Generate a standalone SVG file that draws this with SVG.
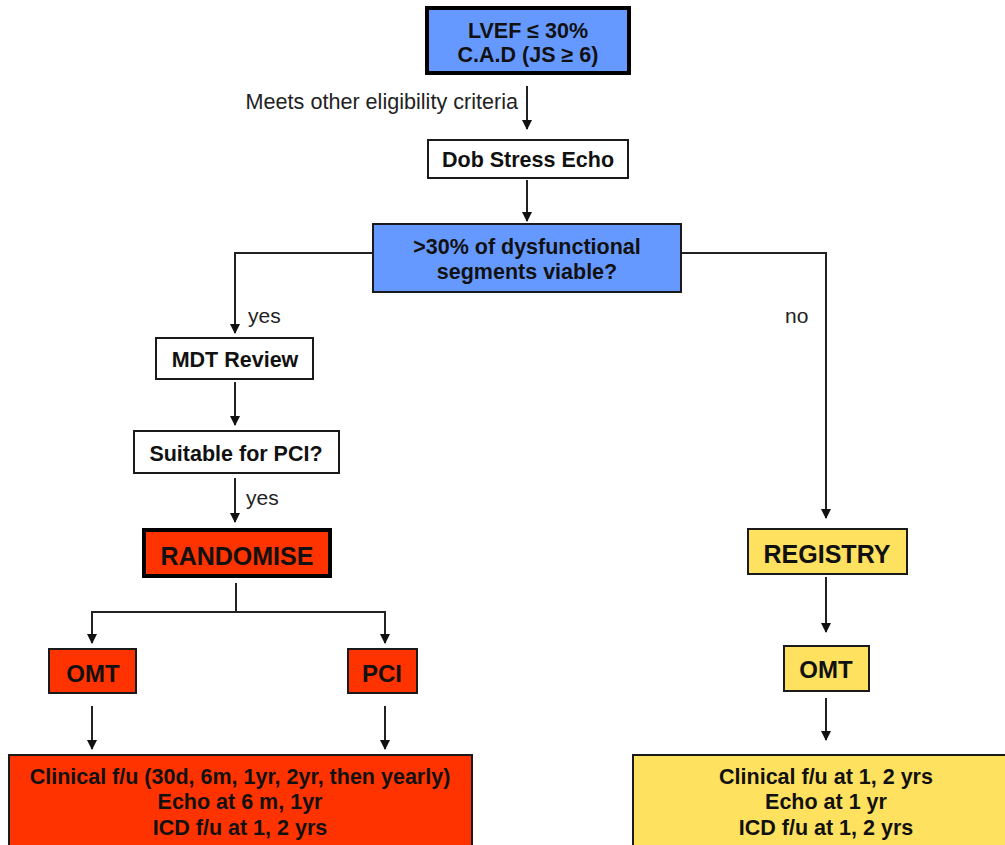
<svg xmlns="http://www.w3.org/2000/svg" width="1005" height="845" viewBox="0 0 1005 845">
<style>
.b{font-family:"Liberation Sans",Arial,sans-serif;font-weight:bold;fill:#111;text-anchor:middle;font-size:21.5px}
.big{font-size:25px}
.mid{font-size:24px}
.n{font-family:"Liberation Sans",Arial,sans-serif;fill:#222;font-size:21px}
.box{stroke:#1a1a1a;stroke-width:2}
.thick{stroke:#000;stroke-width:4}
.c{fill:none;stroke:#222;stroke-width:2}
</style>
<defs>
<marker id="ah" viewBox="0 0 10 10" refX="9" refY="5" markerWidth="5" markerHeight="5" orient="auto" markerUnits="strokeWidth">
<path d="M0,0 L10,5 L0,10 z" fill="#111"/>
</marker>
</defs>
<rect width="1005" height="845" fill="#fff"/>
<g id="connectors">
<line class="c" x1="527" y1="86" x2="527" y2="129" marker-end="url(#ah)"/>
<line class="c" x1="527" y1="180" x2="527" y2="221" marker-end="url(#ah)"/>
<polyline class="c" points="372,253 235,253 235,333" marker-end="url(#ah)"/>
<polyline class="c" points="682,253 826,253 826,518" marker-end="url(#ah)"/>
<line class="c" x1="235" y1="382" x2="235" y2="425" marker-end="url(#ah)"/>
<line class="c" x1="235" y1="478" x2="235" y2="522" marker-end="url(#ah)"/>
<line class="c" x1="236" y1="583" x2="236" y2="612"/>
<polyline class="c" points="92,612 385,612 385,643" marker-end="url(#ah)"/>
<line class="c" x1="92" y1="611" x2="92" y2="643" marker-end="url(#ah)"/>
<line class="c" x1="92" y1="706" x2="92" y2="749" marker-end="url(#ah)"/>
<line class="c" x1="385" y1="706" x2="385" y2="749" marker-end="url(#ah)"/>
<line class="c" x1="826" y1="577" x2="826" y2="632" marker-end="url(#ah)"/>
<line class="c" x1="826" y1="698" x2="826" y2="740" marker-end="url(#ah)"/>
<text class="n" x="518" y="109" text-anchor="end" style="font-size:21.6px">Meets other eligibility criteria</text>
<text class="n" x="248" y="323">yes</text>
<text class="n" x="785" y="323">no</text>
<text class="n" x="246" y="505">yes</text>
</g>
<g id="lvef">
<rect class="thick" x="427" y="8" width="202" height="65" fill="#6699FF"/>
<text class="b" x="528" y="38">LVEF ≤ 30%</text>
<text class="b" x="528" y="62">C.A.D (JS ≥ 6)</text>
</g>
<g id="dse">
<rect class="box" x="428" y="140" width="200" height="38" fill="#fff"/>
<text class="b" x="528" y="167">Dob Stress Echo</text>
</g>
<g id="viable">
<rect class="box" x="373" y="224" width="308" height="68" fill="#6699FF"/>
<text class="b" x="527" y="254">&gt;30% of dysfunctional</text>
<text class="b" x="527" y="279">segments viable?</text>
</g>
<g id="mdt">
<rect class="box" x="156" y="338" width="157" height="41" fill="#fff"/>
<text class="b" x="235" y="367">MDT Review</text>
</g>
<g id="suitable">
<rect class="box" x="134" y="431" width="205" height="42" fill="#fff"/>
<text class="b" x="236" y="461">Suitable for PCI?</text>
</g>
<g id="randomise">
<rect class="thick" x="144" y="530" width="186" height="46" fill="#FF3300"/>
<text class="b big" x="237" y="565">RANDOMISE</text>
</g>
<g id="omt-left">
<rect class="box" x="49" y="649" width="87" height="44" fill="#FF3300"/>
<text class="b mid" x="93" y="682">OMT</text>
</g>
<g id="pci">
<rect class="box" x="348" y="649" width="69" height="44" fill="#FF3300"/>
<text class="b mid" x="382" y="682">PCI</text>
</g>
<g id="followup-left">
<rect class="box" x="9" y="755" width="463" height="100" fill="#FF3300"/>
<text class="b" x="240" y="784">Clinical f/u (30d, 6m, 1yr, 2yr, then yearly)</text>
<text class="b" x="240" y="809">Echo at 6 m, 1yr</text>
<text class="b" x="240" y="835">ICD f/u at 1, 2 yrs</text>
</g>
<g id="registry">
<rect class="box" x="748" y="529" width="159" height="45" fill="#FEE15E"/>
<text class="b big" x="827" y="563">REGISTRY</text>
</g>
<g id="omt-right">
<rect class="box" x="784" y="646" width="85" height="45" fill="#FEE15E"/>
<text class="b mid" x="826" y="678">OMT</text>
</g>
<g id="followup-right">
<rect class="box" x="633" y="755" width="380" height="100" fill="#FEE15E"/>
<text class="b" x="826" y="784">Clinical f/u at 1, 2 yrs</text>
<text class="b" x="826" y="809">Echo at 1 yr</text>
<text class="b" x="826" y="835">ICD f/u at 1, 2 yrs</text>
</g>
</svg>
